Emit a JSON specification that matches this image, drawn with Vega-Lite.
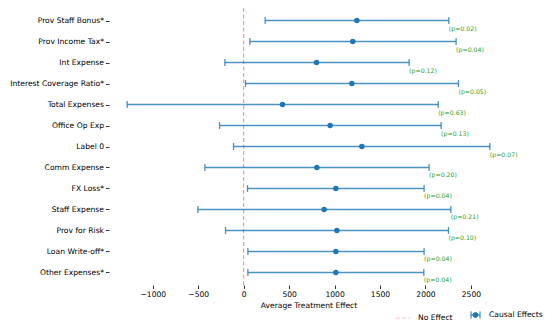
{
  "$schema": "https://vega.github.io/schema/vega-lite/v6.json",
  "autosize": "none",
  "width": 399,
  "height": 277,
  "padding": {"left": 109, "top": 8, "right": 47, "bottom": 48},
  "background": "white",
  "config": {
    "font": "DejaVu Sans",
    "view": {"stroke": null},
    "axis": {"labelFont": "DejaVu Sans", "titleFont": "DejaVu Sans", "labelFontSize": 7.6, "titleFontSize": 7.6, "labelColor": "#000", "titleColor": "#000", "titleFontWeight": "normal", "tickColor": "#000", "tickSize": 3.5, "tickWidth": 0.8, "domain": false, "grid": false},
    "legend": {"labelFont": "DejaVu Sans", "labelFontSize": 7.6, "labelColor": "#000"}
  },
  "data": {"values": [
    {"name": "Prov Staff Bonus*", "ate": 1245, "lo": 236, "hi": 2257, "plabel": "(p=0.02)"},
    {"name": "Prov Income Tax*", "ate": 1200, "lo": 68, "hi": 2337, "plabel": "(p=0.04)"},
    {"name": "Int Expense", "ate": 801, "lo": -207, "hi": 1820, "plabel": "(p=0.12)"},
    {"name": "Interest Coverage Ratio*", "ate": 1190, "lo": 20, "hi": 2363, "plabel": "(p=0.05)"},
    {"name": "Total Expenses", "ate": 427, "lo": -1282, "hi": 2140, "plabel": "(p=0.63)"},
    {"name": "Office Op Exp", "ate": 951, "lo": -266, "hi": 2172, "plabel": "(p=0.13)"},
    {"name": "Label 0", "ate": 1300, "lo": -112, "hi": 2708, "plabel": "(p=0.07)"},
    {"name": "Comm Expense", "ate": 805, "lo": -427, "hi": 2040, "plabel": "(p=0.20)"},
    {"name": "FX Loss*", "ate": 1014, "lo": 42, "hi": 1985, "plabel": "(p=0.04)"},
    {"name": "Staff Expense", "ate": 885, "lo": -504, "hi": 2279, "plabel": "(p=0.21)"},
    {"name": "Prov for Risk", "ate": 1025, "lo": -200, "hi": 2253, "plabel": "(p=0.10)"},
    {"name": "Loan Write-off*", "ate": 1014, "lo": 46, "hi": 1985, "plabel": "(p=0.04)"},
    {"name": "Other Expenses*", "ate": 1014, "lo": 46, "hi": 1982, "plabel": "(p=0.04)"}
  ]},
  "encoding": {
    "y": {"field": "name", "type": "nominal", "sort": null, "scale": {"type": "point", "padding": 0.6}, "axis": {"title": null, "labelPadding": 2}}
  },
  "layer": [
    {
      "data": {"values": [{"zero": 0}]},
      "mark": {"type": "rule", "color": "red", "opacity": 0.5, "strokeWidth": 1},
      "encoding": {
        "y": null,
        "x": {"field": "zero", "type": "quantitative"},
        "strokeDash": {"datum": "No Effect", "type": "nominal", "scale": {"range": [[4, 2.5]]},
          "legend": {"title": null, "orient": "none", "legendX": 286, "legendY": 302, "symbolType": "stroke", "symbolSize": 225, "symbolStrokeColor": "#ff8080", "symbolStrokeWidth": 1, "labelOffset": 7, "padding": 0}}
      }
    },
    {
      "mark": {"type": "rule", "color": "#1f77b4", "opacity": 0.8, "strokeWidth": 1.5},
      "encoding": {
        "x": {"field": "lo", "type": "quantitative", "scale": {"domain": [-1482, 2908], "nice": false, "zero": false},
          "axis": {"title": "Average Treatment Effect", "values": [-1000, -500, 0, 500, 1000, 1500, 2000, 2500], "labelExpr": "replace(datum.label, '-', '−')", "format": "d", "labelPadding": 2, "titlePadding": 3}},
        "x2": {"field": "hi"}
      }
    },
    {
      "mark": {"type": "tick", "orient": "vertical", "color": "#1f77b4", "opacity": 0.8, "size": 7, "thickness": 1.3},
      "encoding": {"x": {"field": "lo", "type": "quantitative"}}
    },
    {
      "mark": {"type": "tick", "orient": "vertical", "color": "#1f77b4", "opacity": 0.8, "size": 7, "thickness": 1.3},
      "encoding": {"x": {"field": "hi", "type": "quantitative"}}
    },
    {
      "mark": {"type": "point", "filled": true, "opacity": 1, "size": 30, "shape": "circle"},
      "encoding": {
        "x": {"field": "ate", "type": "quantitative"},
        "color": {"datum": "Causal Effects", "type": "nominal", "scale": {"range": ["#1f77b4"]},
          "legend": {"title": null, "orient": "none", "legendX": 361.5, "legendY": 302, "symbolType": "M-1,-0.8V0.8M1,-0.8V0.8M-1,0H1M0.55,0A0.55,0.55 0 1,1 -0.55,0A0.55,0.55 0 1,1 0.55,0Z", "symbolSize": 81, "symbolFillColor": "#1f77b4", "symbolStrokeColor": "#1f77b4", "symbolStrokeWidth": 1, "symbolOpacity": 1, "labelOffset": 8.5, "padding": 0}}
      }
    },
    {
      "mark": {"type": "text", "align": "left", "baseline": "middle", "dy": 8, "fontSize": 6.2, "color": "#2ca02c", "font": "DejaVu Sans"},
      "encoding": {
        "x": {"field": "hi", "type": "quantitative"},
        "text": {"field": "plabel"}
      }
    }
  ]
}
